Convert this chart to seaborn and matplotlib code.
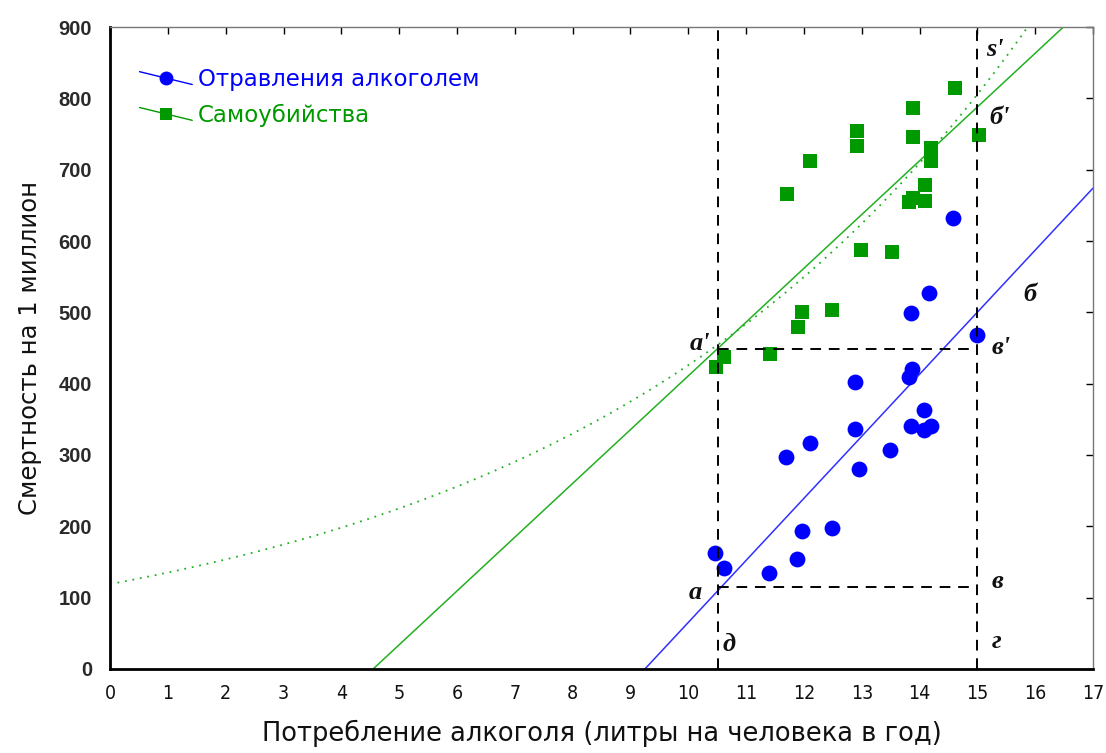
import numpy as np
import pandas as pd
import matplotlib
matplotlib.use("Agg")
import matplotlib.pyplot as plt
import seaborn as sns
from matplotlib.lines import Line2D
from matplotlib.legend_handler import HandlerLine2D

# Alcohol poisoning deaths per million vs. litres of alcohol per head
poison_x = [10.47, 10.61, 11.39, 11.88, 11.97, 12.49, 11.69, 12.10, 12.88, 12.96,
            13.49, 12.88, 13.87, 13.81, 14.07, 13.86, 14.07, 14.19, 14.99, 14.58,
            14.16, 13.86]
poison_y = [163, 141, 135, 154, 193, 197, 297, 317, 337, 281,
            307, 403, 421, 409, 363, 340, 335, 341, 468, 632,
            527, 499]

# Suicides per million vs. litres of alcohol per head
suicide_x = [14.61, 13.89, 12.91, 12.91, 13.89, 15.02, 14.19, 14.19, 12.11, 11.70,
             14.09, 13.81, 13.89, 14.09, 12.98, 13.53, 11.97, 12.49, 11.90, 11.42,
             10.61, 10.48]
suicide_y = [815, 786, 754, 733, 746, 749, 730, 712, 712, 666,
             679, 654, 660, 656, 587, 584, 500, 503, 480, 442,
             437, 424]

# Trend lines: linear fits (slope, x-intercept) and the exponential suicide curve
poison_slope, poison_x0 = 87.0, 9.25
suicide_slope, suicide_x0 = 75.4, 4.55
exp_a, exp_b = 119.0, 0.1275

# Reference levels for the guide lines
x_low, x_high = 10.52, 15.0
y_low, y_high = 115, 448

labels = ["Отравления алкоголем", "Самоубийства"]
x_label = "Потребление алкоголя (литры на человека в год)"
y_label = "Смертность на 1 миллион"

BLUE = "#0000ff"
GREEN = "#009900"
LINE_BLUE = "#3030ff"
LINE_GREEN = "#22b022"

sns.set_theme(style="white")
plt.rcParams["font.family"] = ["Liberation Sans", "DejaVu Sans"]

fig = plt.figure(figsize=(11.06, 7.53), dpi=100)
ax = fig.add_axes([0.0995, 0.1116, 0.8888, 0.8525])

grid = np.linspace(0, 17, 400)
trend = pd.DataFrame({
    "x": grid,
    "poison": poison_slope * (grid - poison_x0),
    "suicide": suicide_slope * (grid - suicide_x0),
    "suicide_exp": exp_a * np.exp(exp_b * grid),
})

sns.lineplot(data=trend, x="x", y="poison", color=LINE_BLUE, lw=1.1, ax=ax, zorder=2)
sns.lineplot(data=trend, x="x", y="suicide", color=LINE_GREEN, lw=1.1, ax=ax, zorder=2)
sns.lineplot(data=trend, x="x", y="suicide_exp", color=LINE_GREEN, lw=1.3,
             ax=ax, zorder=2, linestyle=(0, (1, 3.2)))

pts_p = pd.DataFrame({"x": poison_x, "y": poison_y})
pts_s = pd.DataFrame({"x": suicide_x, "y": suicide_y})
sns.scatterplot(data=pts_p, x="x", y="y", marker="o", s=130, color=BLUE,
                edgecolor=BLUE, linewidth=0, ax=ax, zorder=3)
sns.scatterplot(data=pts_s, x="x", y="y", marker="s", s=95, color=GREEN,
                edgecolor=GREEN, linewidth=0, ax=ax, zorder=3)

# Dashed guide lines
dash = dict(color="black", lw=1.4, linestyle=(0, (5.5, 4)), zorder=4)
ax.plot([x_low, x_low], [0, 900], **dash)
ax.plot([x_high, x_high], [0, 900], **dash)
ax.plot([x_low, x_high], [y_low, y_low], **dash)
ax.plot([x_low, x_high], [y_high, y_high], **dash)

# Point letters
lab = dict(family=["Liberation Serif", "DejaVu Serif"], fontweight="bold",
           style="italic", fontsize=19, color="#111111", va="center", zorder=5)
ax.text(15.15, 868, "s'", ha="left", **lab)
ax.text(15.2, 773, "б'", ha="left", **lab)
ax.text(15.8, 525, "б", ha="left", **lab)
ax.text(15.24, 450, "в'", ha="left", **lab)
ax.text(15.24, 123, "в", ha="left", **lab)
ax.text(15.24, 38, "г", ha="left", **lab)
ax.text(10.6, 34, "д", ha="left", **lab)
ax.text(10.38, 457, "а'", ha="right", **lab)
ax.text(10.24, 107, "а", ha="right", **lab)

ax.set_xlim(0, 17)
ax.set_ylim(0, 900)
ax.set_xticks(range(0, 18))
ax.set_yticks(range(0, 901, 100))

ax.tick_params(axis="both", which="major", direction="in", length=5, width=1,
               top=True, right=True, color="black")
for t in ax.get_xticklabels():
    t.set_fontfamily("DejaVu Sans")
    t.set_fontstretch("condensed")
    t.set_fontsize(14)
    t.set_color("#111111")
for t in ax.get_yticklabels():
    t.set_fontfamily("Liberation Sans")
    t.set_fontweight("bold")
    t.set_fontsize(14.5)
    t.set_color("#2a2a2a")
ax.tick_params(axis="x", pad=11)
ax.tick_params(axis="y", pad=13)

ax.set_xlabel(x_label, fontsize=18.5, family="DejaVu Sans", color="#111111", labelpad=12)
ax.set_ylabel(y_label, fontsize=17.5, family="DejaVu Sans", color="#111111", labelpad=12)

for side in ["left", "bottom"]:
    ax.spines[side].set_color("black")
    ax.spines[side].set_linewidth(2.0)
for side in ["top", "right"]:
    ax.spines[side].set_color("#777777")
    ax.spines[side].set_linewidth(1.0)


class SlantedLine(HandlerLine2D):
    def create_artists(self, legend, orig_handle, xdescent, ydescent,
                       width, height, fontsize, trans):
        artists = super().create_artists(legend, orig_handle, xdescent, ydescent,
                                         width, height, fontsize, trans)
        line = artists[0]
        xd = np.asarray(line.get_xdata(), dtype=float)
        yd = np.asarray(line.get_ydata(), dtype=float)
        mid = yd.mean()
        line.set_ydata(np.linspace(mid + 0.4 * height, mid - 0.4 * height, len(xd)))
        return artists


handles = [
    Line2D([], [], color=BLUE, lw=1.0, marker="o", markersize=10, markeredgewidth=0),
    Line2D([], [], color=GREEN, lw=1.0, marker="s", markersize=9, markeredgewidth=0),
]
ax.legend(handles, labels, loc="upper left", bbox_to_anchor=(0.03, 0.936),
          frameon=False, prop={"family": "DejaVu Sans", "size": 16.5},
          handlelength=2.3, handletextpad=0.25,
          labelspacing=0.55, borderpad=0, borderaxespad=0, numpoints=1,
          labelcolor="linecolor",
          handler_map={Line2D: SlantedLine()})

fig.savefig("out.png", dpi=100)
